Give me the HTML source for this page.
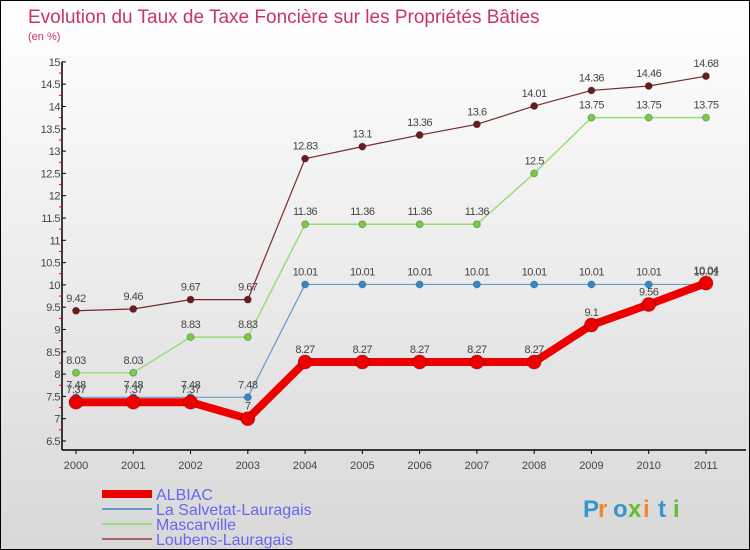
<!DOCTYPE html>
<html><head><meta charset="utf-8"><style>
body{margin:0}
#c{width:750px;height:550px;position:relative;box-sizing:border-box;border:1px solid #000;background:linear-gradient(#fff,#d8d8d8);font-family:"Liberation Sans",sans-serif;overflow:hidden}
</style></head><body>
<div id="c">
<svg id="s" width="750" height="550"></svg>
</div>
<script>
const years=["2000","2001","2002","2003","2004","2005","2006","2007","2008","2009","2010","2011"];
const albiac=[7.37,7.37,7.37,7,8.27,8.27,8.27,8.27,8.27,9.1,9.56,10.04];
const salvetat=[7.48,7.48,7.48,7.48,10.01,10.01,10.01,10.01,10.01,10.01,10.01,10.01];
const mascarville=[8.03,8.03,8.83,8.83,11.36,11.36,11.36,11.36,12.5,13.75,13.75,13.75];
const loubens=[9.42,9.46,9.67,9.67,12.83,13.1,13.36,13.6,14.01,14.36,14.46,14.68];
const yTicks=[6.5,7,7.5,8,8.5,9,9.5,10,10.5,11,11.5,12,12.5,13,13.5,14,14.5,15];
const names=["ALBIAC","La Salvetat-Lauragais","Mascarville","Loubens-Lauragais"];
const NS="http://www.w3.org/2000/svg",s=document.getElementById('s');
const X=i=>75+i*57.27, Y=v=>440-(v-6.5)*44.6;
function el(t,a,p){const e=document.createElementNS(NS,t);for(const k in a)e.setAttribute(k,a[k]);(p||s).appendChild(e);return e;}
function txt(x,y,str,a){const e=el('text',Object.assign({x:x,y:y},a));e.textContent=str;return e;}
let t=txt(27,22,"Evolution du Taux de Taxe Foncière sur les Propriétés Bâties",{fill:"#c8336a","font-size":19});

t=txt(27,39,"(en %)",{fill:"#c8336a","font-size":11});

let ax=el('line',{x1:61,y1:Y(15),x2:61,y2:449,stroke:"#000","stroke-width":1.5});

ax=el('line',{x1:61,y1:449,x2:745,y2:449,stroke:"#000","stroke-width":1.5});

yTicks.forEach((v,i)=>{el('line',{x1:61,y1:Y(v),x2:65,y2:Y(v),stroke:"#000"});
 if(i<yTicks.length-1)el('line',{x1:58,y1:Y(v+0.25),x2:61,y2:Y(v+0.25),stroke:"#e00"});
 const l=txt(59,Y(v)+4,String(v),{"font-size":11,fill:"#444","text-anchor":"end","letter-spacing":"-0.5"});
 });
years.forEach((y,i)=>{el('line',{x1:X(i),y1:449,x2:X(i),y2:453,stroke:"#000"});
 const l=txt(X(i),468,y,{"font-size":11,fill:"#444","text-anchor":"middle"});
 });
function series(d,col,w,r,dot,name,lab){
 const p=el('polyline',{points:d.map((v,i)=>X(i)+","+Y(v)).join(" "),fill:"none",stroke:col,"stroke-width":w,"stroke-linejoin":"round"});
 
 d.forEach((v,i)=>{const c=el('circle',{cx:X(i),cy:Y(v),r:r,fill:dot,stroke:"rgba(0,0,0,0.25)"});
  
  const l=txt(X(i),Y(v)-9,String(v).replace(/^(\d+\.\d)$/,"$1"),{"font-size":11,fill:"#444","text-anchor":"middle","letter-spacing":"-0.5"});
  });
}
series(loubens,"#7a2a2a",1.2,3.5,"#6b1b1b","loubens");
series(mascarville,"#99dd77",1.5,3.5,"#77cc44","mascarville");
series(salvetat,"#6699cc",1.2,3.5,"#3388cc","salvetat");
series(albiac,"#ee0000",8,7,"#ee0000","albiac");
const lc=[["#ee0000",8],["#6699cc",2],["#99dd77",2],["#aa6666",2]];
names.forEach((n,i)=>{const y=493+i*15;
 const g=el('g',{});
 el('line',{x1:101,y1:y,x2:151,y2:y,stroke:lc[i][0],"stroke-width":lc[i][1]},g);
 const l=txt(155,y+6,n,{"font-size":16,fill:"#6666ee"},g);});
const lg=el('g',{});
const cols=["#3399cc","#ee8833","#3399cc","#66bb33","#ee8833","#3399cc","#66bb33"];
"Proxiti".split("").forEach((ch,i)=>txt(582+i*15,516,ch,{"font-size":24,"font-weight":"bold",fill:cols[i]},lg));
</script>
</body></html>
